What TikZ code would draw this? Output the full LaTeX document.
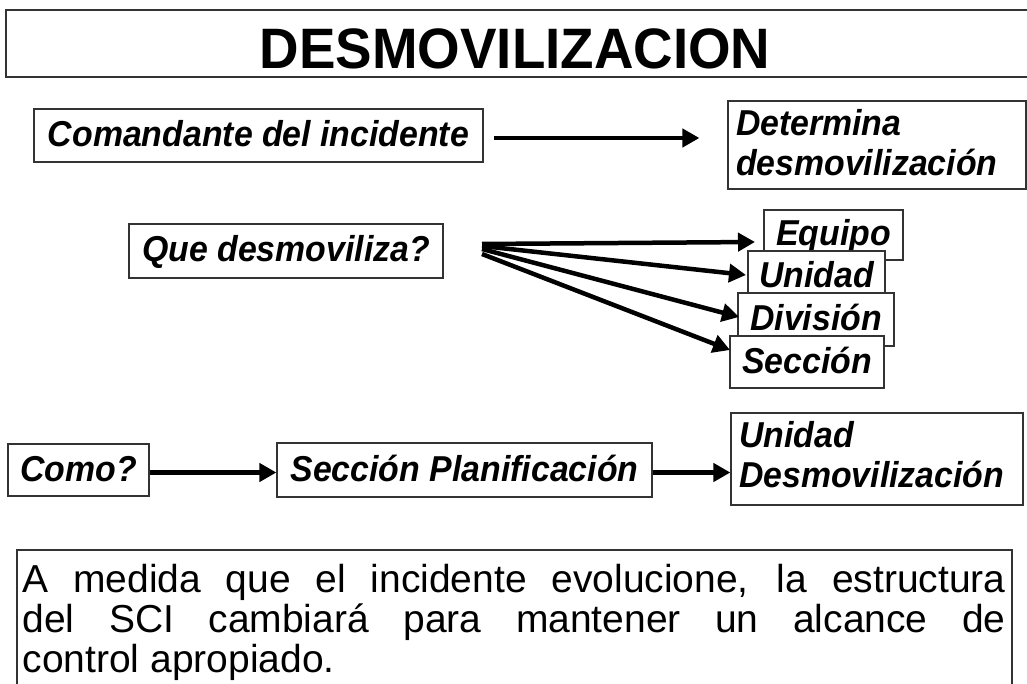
\documentclass[tikz,border=0pt]{standalone}
\usepackage{fontspec}
\setmainfont{Liberation Sans}
\newfontfamily\lblfam[FakeStretch=0.94]{Liberation Sans}
\newfontfamily\ttlfam[FakeStretch=0.96]{Liberation Sans}
\usetikzlibrary{arrows.meta,calc}
\newcommand{\lblfont}{\lblfam\fontsize{36}{40}\selectfont\bfseries\itshape}
\begin{document}
\begin{tikzpicture}[x=1pt,y=-1pt,
  box/.style={draw=black!80, line width=1.2pt, fill=white, inner sep=0pt},
  lbl/.style={box, font=\lblfont, text height=27pt, text depth=5pt},
  two/.style={box, font=\lblfont, align=left, inner xsep=8pt, anchor=center},
  arr/.style={line width=4.5pt, -{Triangle[length=17pt,width=18pt]}},
]
\useasboundingbox (0,0) rectangle (1027,684);
\fill[white] (0,0) rectangle (1027,684);

% title
\node[box, minimum width=1040pt, minimum height=67pt] (titlebox) at (526,43.5) {};
\node[font=\ttlfam\fontsize{57}{60}\selectfont\bfseries, anchor=base, inner sep=0pt] (title) at (515,69) {DESMOVILIZACION};

% row 1
\node[lbl, minimum width=449pt, minimum height=53pt] (ci) at (258.5,135.5) {Comandante del incidente};
\node[two, text width=282pt, minimum width=298pt, minimum height=88pt, text depth=45.8pt] (det) at (877,145) {Determina\\desmovilización};
\draw[arr] ([xshift=10pt,yshift=-2.5pt]ci.east) -- ([xshift=-28pt,yshift=-2.5pt]ci.east -| det.west);

% row 2
\node[lbl, minimum width=314pt, minimum height=54pt] (que) at (286,251) {Que desmoviliza?};
\node[lbl, minimum width=139pt, minimum height=50pt] (equipo) at (833.5,235) {Equipo};
\node[lbl, minimum width=137pt, minimum height=52pt] (unidad) at (816.5,277) {Unidad};
\node[lbl, minimum width=156pt, minimum height=53pt] (division) at (816,319.5) {División};
\node[lbl, minimum width=154pt, minimum height=52pt] (seccion) at (807,362) {Sección};

\coordinate (f1) at (482,244);
\coordinate (f2) at (482,246);
\coordinate (f3) at (482,249);
\coordinate (f4) at (482,254);
\coordinate (t1) at (755,242);
\coordinate (t2) at (746,275);
\coordinate (t3) at (739,317);
\coordinate (t4) at (730,350);
\draw[arr] (f1) -- (t1);
\draw[arr] (f2) -- (t2);
\draw[arr] (f3) -- (t3);
\draw[arr] (f4) -- (t4);

% row 3
\node[lbl, minimum width=141pt, minimum height=52pt] (como) at (78.5,470) {Como?};
\node[lbl, minimum width=375pt, minimum height=54pt] (secplan) at (464.5,470) {Sección Planificación};
\node[two, text width=276pt, minimum width=292pt, minimum height=92pt, text depth=49.8pt] (unidesm) at (877,459) {Unidad\\Desmovilización};
\draw[arr] ([yshift=-2.5pt]como.east) -- ([yshift=-2.5pt]como.east -| secplan.west);
\draw[arr] ([yshift=-2.5pt]secplan.east) -- ([yshift=-2.5pt]secplan.east -| unidesm.west);

% note
\node[box, minimum width=995pt, minimum height=170pt] (note) at (514.5,635) {};
\node[anchor=base west, inner sep=0pt, text width=983pt, align=justify,
      font=\fontsize{39}{40}\selectfont] (notetext) at ($(note.north west)+(6,43)$)
  {\hyphenpenalty=10000 A medida que el incidente evolucione, la estructura\linebreak del SCI cambiará para mantener un alcance de\linebreak control apropiado.};
\end{tikzpicture}
\end{document}
